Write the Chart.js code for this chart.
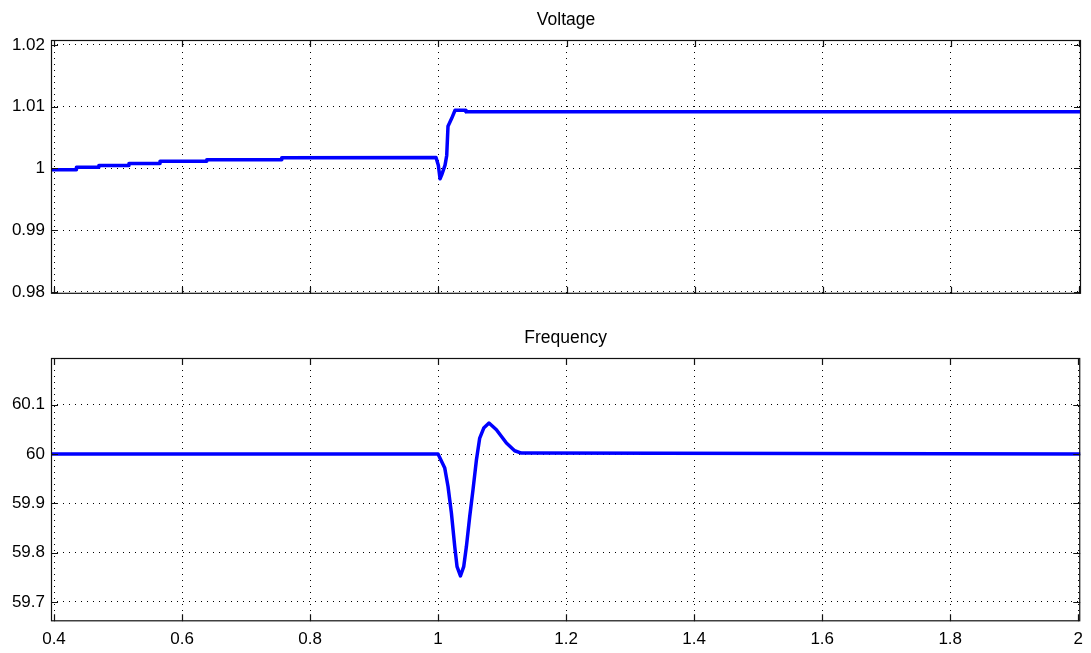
<!DOCTYPE html>
<html>
<head>
<meta charset="utf-8">
<script src="https://cdn.jsdelivr.net/npm/chart.js@4.4.1/dist/chart.umd.min.js"></script>
<style>
  body { margin: 0; background: #fff; }
  canvas { position: absolute; left: 0; }
  #voltChart { top: 0; }
  #freqChart { top: 318px; }
</style>
</head>
<body>
<canvas id="voltChart" width="1091" height="310"></canvas>
<canvas id="freqChart" width="1091" height="335"></canvas>
<script>
'use strict';

// time axis
const xTicks = [0.4, 0.6, 0.8, 1, 1.2, 1.4, 1.6, 1.8, 2];
const xLabels = ['0.4', '0.6', '0.8', '1', '1.2', '1.4', '1.6', '1.8', '2'];

// voltage plot
const voltTicks = [0.98, 0.99, 1, 1.01, 1.02];
const voltLabels = ['0.98', '0.99', '1', '1.01', '1.02'];
const voltTime = [0.3953, 0.435, 0.435, 0.470, 0.470, 0.517, 0.517, 0.5655, 0.5655, 0.6384, 0.6384, 0.7555, 0.7555,
  0.9963, 0.9999, 1.0026, 1.0052, 1.0104, 1.0130, 1.0150, 1.0208, 1.0260, 1.0416, 1.0431, 2.0031];
const voltValues = [0.99978, 0.99978, 1.00016, 1.00016, 1.00047, 1.00047, 1.00078, 1.00078, 1.00115, 1.00115, 1.00141, 1.00141, 1.00173,
  1.00177, 1.00052, 0.99832, 0.99895, 1.00052, 1.00209, 1.0068, 1.0081, 1.00941, 1.00941, 1.00915, 1.00915];

// frequency plot
const freqTicks = [59.7, 59.8, 59.9, 60, 60.1];
const freqLabels = ['59.7', '59.8', '59.9', '60', '60.1'];
const freqTime = [0.3953, 0.9999, 1.0104, 1.0155, 1.0208, 1.0260, 1.0296, 1.0349, 1.0400, 1.0442, 1.0494,
  1.0545, 1.0599, 1.0650, 1.0713, 1.0795, 1.0911, 1.1067, 1.1196, 1.1301, 2.0031];
const freqValues = [60, 60, 59.9715, 59.9341, 59.8801, 59.8122, 59.7715, 59.7526, 59.7715, 59.8122, 59.8732,
  59.9274, 59.9884, 60.0325, 60.0528, 60.0630, 60.0494, 60.0224, 60.0067, 60.0020, 60];

Chart.defaults.font.family = "'Liberation Sans', Arial, sans-serif";
Chart.defaults.font.size = 17;
Chart.defaults.color = '#000';

// matlab style box with inward ticks
const framePlugin = {
  id: 'frame',
  afterDraw(chart) {
    const ctx = chart.ctx;
    const a = chart.chartArea;
    const xs = chart.scales.x;
    const ys = chart.scales.y;
    ctx.save();
    ctx.strokeStyle = '#111';
    ctx.lineWidth = 1.2;
    ctx.strokeRect(a.left + 0.5, a.top + 0.5, a.right - a.left - 1, a.bottom - a.top - 1);
    ctx.beginPath();
    for (let v of xTicks) {
      const px = Math.round(xs.getPixelForValue(v)) + 0.5;
      ctx.moveTo(px, a.bottom); ctx.lineTo(px, a.bottom - 7);
      ctx.moveTo(px, a.top); ctx.lineTo(px, a.top + 7);
    }
    for (let t of ys.ticks) {
      const py = Math.round(ys.getPixelForValue(t.value)) + 0.5;
      ctx.moveTo(a.left, py); ctx.lineTo(a.left + 7, py);
      ctx.moveTo(a.right, py); ctx.lineTo(a.right - 7, py);
    }
    ctx.stroke();
    ctx.restore();
  }
};

function makePlot(canvas, title, times, values, yMin, yMax, yTicks, yLabels, showX) {
  return new Chart(canvas, {
    type: 'line',
    data: {
      datasets: [{
        data: times.map((t, i) => ({ x: t, y: values[i] })),
        borderColor: '#0000ff',
        borderWidth: 3.5,
        borderJoinStyle: 'round',
        borderCapStyle: 'round',
        pointRadius: 0,
        tension: 0
      }]
    },
    options: {
      responsive: false,
      animation: false,
      layout: { padding: { left: 0, right: 10, top: 0, bottom: 0 } },
      plugins: {
        legend: { display: false },
        tooltip: { enabled: false },
        title: {
          display: true,
          text: title,
          fullSize: false,
          font: { size: 17.5, weight: 'normal' },
          padding: { top: 10, bottom: 9 }
        }
      },
      scales: {
        x: {
          type: 'linear',
          min: 0.3953,
          max: 2.0031,
          afterBuildTicks: s => { s.ticks = xTicks.map(v => ({ value: v })) },
          afterFit: s => { s.height = showX ? 31.7 : 8 },
          ticks: {
            display: showX,
            maxRotation: 0,
            padding: 8,
            callback: (v, i) => xLabels[i]
          },
          grid: { color: '#000', lineWidth: 1, drawTicks: false },
          border: { display: false, dash: [1, 5] }
        },
        y: {
          min: yMin,
          max: yMax,
          afterBuildTicks: s => { s.ticks = yTicks.map(v => ({ value: v })) },
          afterFit: s => { s.width = 51 },
          ticks: {
            padding: 6,
            callback: (v, i) => yLabels[i]
          },
          grid: { color: '#000', lineWidth: 1, drawTicks: false },
          border: { display: false, dash: [1, 5] }
        }
      }
    },
    plugins: [framePlugin]
  });
}

makePlot(document.getElementById('voltChart'), 'Voltage', voltTime, voltValues,
  0.97969, 1.02078, voltTicks, voltLabels, false);
makePlot(document.getElementById('freqChart'), 'Frequency', freqTime, freqValues,
  59.6606, 60.195, freqTicks, freqLabels, true);
</script>
</body>
</html>
